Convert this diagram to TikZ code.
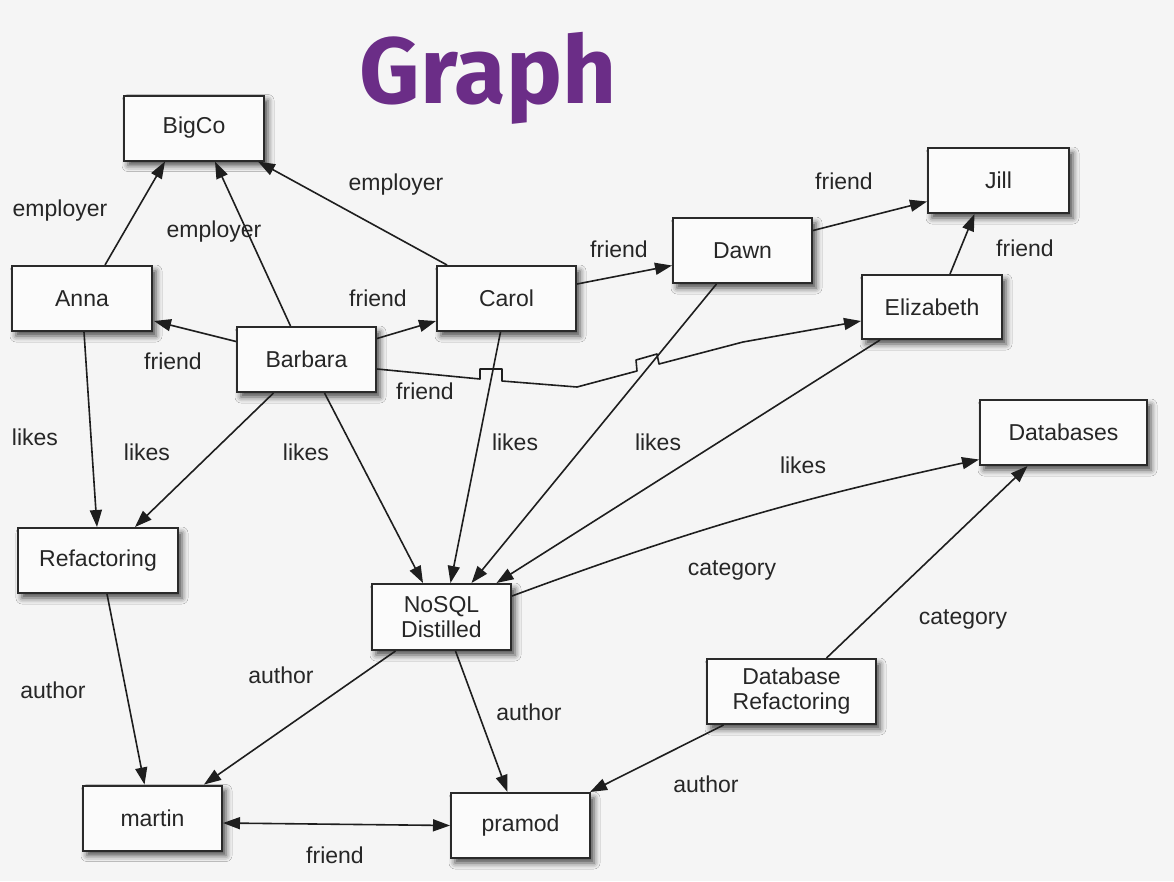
\documentclass[tikz,border=0pt]{standalone}
\usepackage{fontspec}
\setmainfont{Liberation Sans}
\newfontfamily\titlefont{Fira Sans}
\usetikzlibrary{arrows.meta,calc,shadows.blur}
\definecolor{bg}{HTML}{F5F5F5}
\definecolor{boxfill}{HTML}{FBFBFB}
\definecolor{boxline}{HTML}{2A2A2A}
\definecolor{edgec}{HTML}{1E1E1E}
\definecolor{textc}{HTML}{262626}
\definecolor{titlec}{HTML}{6B2D87}
\newcommand\lblfont{\fontsize{23}{27}\selectfont}
\begin{document}
\begin{tikzpicture}[x=1pt,y=-1pt,
  box/.style={draw=boxline, line width=2pt, fill=boxfill,
    minimum width=140pt, minimum height=65pt, inner sep=2pt,
    align=center, font=\lblfont, text=textc,
    blur shadow={shadow xshift=4pt, shadow yshift=-5pt,
      shadow blur radius=6pt, shadow opacity=70}},
  edge/.style={draw=edgec, line width=1.6pt, line join=round,
    -{Triangle[length=17pt,width=12pt]}},
  biedge/.style={draw=edgec, line width=1.6pt,
    {Triangle[length=17pt,width=12pt]}-{Triangle[length=17pt,width=12pt]}},
  lab/.style={font=\lblfont, text=textc, inner sep=0pt}
]
\fill[bg] (0,0) rectangle (1174,881);
\useasboundingbox (0,0) rectangle (1174,881);

\node[anchor=base, text=titlec, font=\titlefont\bfseries\fontsize{94}{100}\selectfont] (title) at (488,103) {Graph};

% nodes
\node[box] (BigCo) at (194,128) {BigCo};
\node[box] (Anna) at (82,298.5) {Anna};
\node[box, minimum width=139pt] (Barbara) at (306.5,359.5) {Barbara};
\node[box, minimum width=139pt] (Carol) at (506.5,298.5) {Carol};
\node[box, minimum width=139pt] (Dawn) at (742.5,250.5) {Dawn};
\node[box, minimum width=141pt] (Jill) at (998.5,180.5) {Jill};
\node[box, minimum height=64pt] (Elizabeth) at (932,307) {Elizabeth};
\node[box, minimum width=167pt] (Databases) at (1063.5,432.5) {Databases};
\node[box, minimum width=160pt] (Refactoring) at (98,560.5) {Refactoring};
\node[box, minimum width=139pt, minimum height=66pt] (NoSQL) at (441.5,617) {NoSQL\\[-2pt]Distilled};
\node[box, minimum width=169pt] (DBRef) at (791.5,691.5) {Database\\[-2pt]Refactoring};
\node[box, minimum width=139pt] (martin) at (152.5,818) {martin};
\node[box, minimum width=139pt] (pramod) at (520.5,825.5) {pramod};

% edges
\draw[edge] ($(Anna.north)+(23,0)$) -- ($(BigCo.south)+(-29,0)$);
\draw[edge] ($(Barbara.north)+(-16,0)$) -- ($(BigCo.south)+(21,0)$);
\draw[edge] ($(Carol.north)+(-59.5,0)$) -- ($(BigCo.south east)+(-7,0)$);
\draw[edge] ($(Barbara.west)+(0,-18)$) -- ($(Anna.south east)+(1,-11)$);
\draw[edge] ($(Barbara.east)+(0,-21)$) -- ($(Carol.south west)+(0,-11)$);
\draw[edge] ($(Barbara.east)+(0,9.5)$) -- (480,379) -- (480,369) -- (502,369) -- (502,381)
  -- (577,387) -- (637,371) -- (636,360) -- (657,354) -- (659,364) -- (743,342)
  -- ($(Elizabeth.west)+(0,14)$);
\draw[edge] ($(Carol.east)+(0,-14.5)$) -- ($(Dawn.west)+(0,15)$);
\draw[edge] ($(Dawn.east)+(0,-20)$) -- ($(Jill.west)+(0,21)$);
\draw[edge] ($(Elizabeth.north)+(18,0)$) -- ($(Jill.south)+(-24,0)$);
\draw[edge] ($(Anna.south)+(2,0)$) -- ($(Refactoring.north)+(-1,0)$);
\draw[edge] ($(Barbara.south)+(-33,0)$) -- ($(Refactoring.north)+(37,0)$);
\draw[edge] ($(Barbara.south)+(18,0)$) -- ($(NoSQL.north)+(-18.5,0)$);
\draw[edge] ($(Carol.south)+(-6,0)$) -- ($(NoSQL.north)+(9,0)$);
\draw[edge] ($(Dawn.south)+(-26,0)$) -- ($(NoSQL.north)+(30,0)$);
\draw[edge] ($(Elizabeth.south)+(-52,0)$) -- ($(NoSQL.north)+(55,0)$);
\draw[edge] ($(NoSQL.east)+(0,-21)$) to[bend left=4] ($(Databases.west)+(0,27)$);
\draw[edge] ($(DBRef.north)+(35,0)$) -- ($(Databases.south)+(-36,0)$);
\draw[edge] ($(DBRef.south)+(-68,0)$) -- ($(pramod.north east)+(-1,0)$);
\draw[edge] ($(NoSQL.south)+(-46,0)$) -- ($(martin.north east)+(-19,0)$);
\draw[edge] ($(NoSQL.south)+(14,0)$) -- ($(pramod.north)+(-13,0)$);
\draw[edge] ($(Refactoring.south)+(9,0)$) -- ($(martin.north)+(-8,0)$);
\draw[biedge] ($(martin.east)+(0,5)$) -- ($(pramod.west)+(0,0)$);

% labels
\node[lab] (l1) at (60,211) {employer};
\node[lab] (l2) at (214,232) {employer};
\node[lab] (l3) at (396,185) {employer};
\node[lab] (l4) at (844,181) {friend};
\node[lab] (l5) at (1025,248) {friend};
\node[lab] (l6) at (619,249) {friend};
\node[lab] (l7) at (378,298) {friend};
\node[lab] (l8) at (173,361) {friend};
\node[lab] (l9) at (425,391) {friend};
\node[lab] (l10) at (35,437) {likes};
\node[lab] (l11) at (147,452) {likes};
\node[lab] (l12) at (306,452) {likes};
\node[lab] (l13) at (515,442) {likes};
\node[lab] (l14) at (658,442) {likes};
\node[lab] (l15) at (803,465) {likes};
\node[lab] (l16) at (732,570) {category};
\node[lab] (l17) at (963,619) {category};
\node[lab] (l18) at (53,690) {author};
\node[lab] (l19) at (281,675) {author};
\node[lab] (l20) at (529,712) {author};
\node[lab] (l21) at (706,784) {author};
\node[lab] (l22) at (335,855) {friend};
\end{tikzpicture}
\end{document}
